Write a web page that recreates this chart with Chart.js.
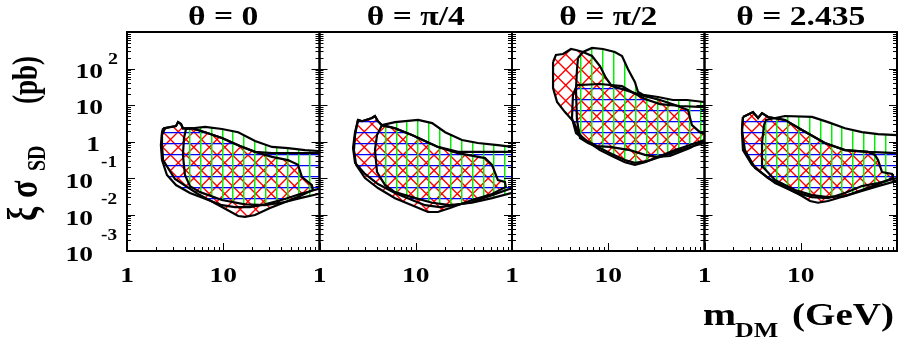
<!DOCTYPE html>
<html><head><meta charset="utf-8">
<script src="https://cdn.jsdelivr.net/npm/chart.js@4.4.1/dist/chart.umd.min.js"></script>
<style>
html,body{margin:0;padding:0;background:#fff;}
#wrap{position:relative;width:900px;height:344px;overflow:hidden;background:#fff;}
#wrap canvas{position:absolute;left:0;top:0;}
</style></head><body><div id="wrap"></div>
<script>
// ---------------- DATA (m_DM in GeV, xi*sigma_SD in pb) ----------------
const panelTitles = ["θ = 0", "θ = π/4", "θ = π/2", "θ = 2.435"];
const xMajorTicks = [1, 10, 100];
const xTickLabels = [[1, "1"], [10, "10"]];
const yMajorTicks = [0.001, 0.01, 0.1, 1, 10, 100, 1000];
const minorSteps = [2, 3, 4, 5, 6, 7, 8, 9];

// theta = 0
const t0Blue = [[2.37,2.3],[2.80,2.5],[3.23,2.66],[3.39,3.4],[3.64,3.0],[3.81,2.3],[4.73,2.3],[6.47,1.8],[9.70,1.25],[14.9,0.75],[21.4,0.52],[32.1,0.48],[97,0.48],[130,0.48],[130,0.05],[97,0.05],[62.7,0.0365],[43.8,0.0266],[27.2,0.019],[18.9,0.016],[13.2,0.016],[9.7,0.018],[6.47,0.027],[4.51,0.039],[3.23,0.064],[2.60,0.121],[2.31,0.31],[2.25,0.80],[2.31,1.8]];
const t0Red = [[2.31,1.5],[2.48,2.3],[3.23,2.66],[3.39,3.4],[3.64,3.0],[3.81,2.3],[4.73,2.3],[6.47,1.8],[9.70,1.25],[14.9,0.75],[21.4,0.52],[32.1,0.38],[47.0,0.31],[59.8,0.23],[65.8,0.106],[83.4,0.064],[85.4,0.047],[62.7,0.032],[47.0,0.0234],[30.6,0.015],[21.4,0.0097],[16.8,0.0086],[14.3,0.0091],[9.7,0.016],[5.47,0.0365],[3.15,0.094],[2.37,0.31],[2.31,0.80]];
const t0Green = [[4.10,2.2],[6.47,2.5],[9.7,2.2],[14.3,1.8],[21.4,1.03],[32.1,0.71],[47.0,0.66],[70.6,0.58],[97,0.55],[130,0.55],[130,0.0365],[97,0.0365],[62.7,0.028],[43.8,0.022],[27.2,0.018],[16.8,0.019],[9.7,0.025],[5.74,0.041],[4.51,0.060],[4.0,0.121],[3.81,0.43],[3.91,1.25]];

// theta = pi/4
const tq4Blue = [[2.51,3.9],[2.77,3.6],[3.51,4.4],[3.77,5.0],[4.05,3.6],[4.45,2.8],[6.09,2.3],[9.13,1.5],[17.0,0.71],[27.5,0.52],[46.5,0.52],[100,0.52],[130,0.52],[130,0.053],[100,0.053],[62,0.034],[38.4,0.022],[25.6,0.018],[17.8,0.016],[12.5,0.018],[9.13,0.025],[6.09,0.039],[4.05,0.0685],[2.97,0.129],[2.34,0.26],[2.23,0.66],[2.34,1.8]];
const tq4Red = [[2.34,1.5],[2.51,3.9],[2.77,3.6],[3.51,4.4],[3.77,5.0],[4.05,3.6],[4.45,2.8],[6.09,2.3],[9.13,1.5],[17.0,0.71],[27.5,0.48],[52.4,0.35],[62,0.23],[71.4,0.088],[84.3,0.078],[86.3,0.057],[62,0.0365],[38.4,0.025],[22.7,0.015],[17.0,0.0117],[13.4,0.0117],[9.13,0.018],[6.09,0.028],[4.05,0.053],[2.97,0.1],[2.40,0.23],[2.28,0.58]];
const tq4Green = [[4.45,2.8],[6.09,3.4],[10.6,3.9],[14.8,3.2],[20.2,1.8],[30.2,1.1],[44.2,0.91],[71.4,0.80],[100,0.71],[130,0.71],[130,0.039],[100,0.039],[62,0.028],[38.4,0.021],[22.7,0.018],[14.8,0.021],[9.13,0.030],[6.09,0.041],[4.79,0.064],[3.96,0.146],[3.77,0.58],[3.96,1.5]];

// theta = pi/2
const tq2Blue = [[4.73,35],[8.20,37.6],[13.9,33],[17.6,22.7],[24.1,14.6],[34.5,10.6],[55.7,9.4],[98.8,8.8],[130,8.8],[130,1.1],[100,1.1],[70.6,0.66],[43.8,0.40],[32.1,0.38],[24.1,0.43],[16.8,0.58],[10.4,0.71],[7.63,0.75],[5.74,1.1],[4.62,1.7],[4.20,4.4],[4.30,19]];
const tq2Red = [[2.67,151],[2.86,234],[3.39,250],[4.10,342],[4.62,321],[5.47,283],[6.78,220],[8.20,117],[9.47,55],[10.9,33],[14.9,26],[21.4,19],[34.5,13.7],[49.4,10],[67.4,7.3],[74.1,2.8],[89.6,1.8],[100,1.6],[130,1.6],[130,1.1],[100,1.1],[70.6,0.80],[49.4,0.58],[34.5,0.40],[24.1,0.27],[18.9,0.23],[14.9,0.27],[10.9,0.40],[8.20,0.58],[6.16,0.97],[4.85,1.7],[4.40,3.4],[3.55,6.4],[2.94,12.1],[2.67,29]];
const tq2Green = [[4.85,194],[5.47,283],[6.78,365],[8.81,342],[11.7,283],[13.9,220],[16.0,97],[18.9,43],[20.4,22.7],[23.0,19],[32.9,16.6],[47.0,13.7],[65.8,13.7],[98.8,12.1],[130,12.1],[130,0.91],[100,0.91],[70.6,0.71],[49.4,0.52],[34.5,0.38],[25.3,0.29],[18.9,0.26],[14.9,0.31],[10.9,0.455],[8.2,0.66],[6.16,0.91],[5.09,1.25],[4.73,3.9],[4.62,26],[4.73,91]];

// theta = 2.435
const t2435Blue = [[2.51,4.7],[3.19,6.4],[3.60,4.4],[3.96,6.0],[4.57,4.7],[6.86,3.9],[10.3,2.07],[17.8,0.91],[28.8,0.58],[49.9,0.52],[100,0.48],[130,0.48],[130,0.1],[100,0.1],[63.5,0.073],[43.2,0.060],[28.8,0.039],[19.2,0.028],[13.1,0.030],[8.72,0.041],[5.41,0.073],[3.35,0.188],[2.63,0.58],[2.45,2.07]];
const t2435Red = [[2.51,4.7],[3.19,6.4],[3.60,4.4],[3.96,6.0],[4.57,4.7],[6.86,3.9],[10.3,2.07],[17.8,0.91],[28.8,0.58],[49.9,0.52],[58.9,0.43],[63.5,0.31],[69.9,0.146],[88.9,0.129],[90.8,0.1],[63.5,0.068],[43.2,0.047],[28.8,0.032],[19.2,0.0234],[15.1,0.021],[12.5,0.0234],[10.3,0.032],[6.86,0.057],[4.57,0.1],[3.11,0.23],[2.51,0.58],[2.45,1.8]];
const t2435Green = [[4.15,2.8],[4.36,3.9],[6.86,5.0],[13.1,4.7],[19.2,3.4],[28.8,2.3],[43.2,1.8],[63.5,1.6],[100,1.5],[130,1.5],[130,0.083],[100,0.083],[63.5,0.06],[43.2,0.044],[28.8,0.032],[19.2,0.030],[13.1,0.034],[8.72,0.047],[5.41,0.088],[4.05,0.20],[3.96,0.91]];

// ---------------- LAYOUT ----------------
const W = 900, H = 344;
const panelEdges = [127, 319.5, 512, 704.5, 897];
const plotTop = 32, plotBottom = 251;
const SERIF = '"Liberation Serif","Times New Roman","DejaVu Serif",serif';

const panels = [
  {title: panelTitles[0], green: t0Green, blue: t0Blue, red: t0Red},
  {title: panelTitles[1], green: tq4Green, blue: tq4Blue, red: tq4Red},
  {title: panelTitles[2], green: tq2Green, blue: tq2Blue, red: tq2Red},
  {title: panelTitles[3], green: t2435Green, blue: t2435Blue, red: t2435Red}
];

// ---------------- PATTERNS ----------------
function patH() {
  const c = document.createElement('canvas'); c.width = 8; c.height = 11;
  const g = c.getContext('2d'); g.fillStyle = '#0000ff'; g.fillRect(0, 0, 8, 1);
  g.fillStyle = 'rgba(60,60,255,0.35)'; g.fillRect(0, 1, 8, 1);
  return g.createPattern(c, 'repeat');
}
function patV() {
  const c = document.createElement('canvas'); c.width = 87; c.height = 4;
  const g = c.getContext('2d');
  [15, 26, 37, 48, 58, 69, 80, 4].forEach(x => {
    g.fillStyle = '#00f000'; g.fillRect(x, 0, 1, 4);
    g.fillStyle = 'rgba(40,240,40,0.55)'; g.fillRect(x + 1, 0, 1, 4);
  });
  return g.createPattern(c, 'repeat');
}
function patX() {
  const T = 31;
  const c = document.createElement('canvas'); c.width = T; c.height = T;
  const g = c.getContext('2d'); g.strokeStyle = '#ff0000'; g.lineWidth = 1.4;
  g.beginPath();
  for (let o = -T; o <= T; o += T / 2) {
    g.moveTo(o, 0); g.lineTo(o + T, T);
    g.moveTo(o, T); g.lineTo(o + T, 0);
  }
  g.stroke();
  return g.createPattern(c, 'repeat');
}
const PG = patV(), PB = patH(), PR = patX();

function closed(arr) {
  const pts = arr.map(([x, y]) => ({x, y}));
  pts.push({x: arr[0][0], y: arr[0][1]});
  return pts;
}
function fillDs(arr, pat) {
  return {data: closed(arr), showLine: true, fill: 'shape', backgroundColor: pat,
    borderColor: 'rgba(0,0,0,0)', borderWidth: 0, pointRadius: 0, tension: 0};
}
function lineDs(arr) {
  return {data: closed(arr), showLine: true, fill: false, borderColor: '#000',
    borderWidth: 2.2, pointRadius: 0, tension: 0, backgroundColor: 'rgba(0,0,0,0)'};
}

function txt(ctx, s, x, y, size, align, sx) {
  ctx.save();
  ctx.font = 'bold ' + size + 'px ' + SERIF;
  ctx.textAlign = align; ctx.textBaseline = 'alphabetic';
  ctx.fillStyle = '#000';
  ctx.translate(x, y); ctx.scale(sx, 1);
  ctx.fillText(s, 0, 0);
  ctx.restore();
}

const deco = {
  id: 'deco',
  afterDraw(chart, args, opts) {
    const {ctx, chartArea: a} = chart;
    const xs = chart.scales.x, ys = chart.scales.y;
    const i = opts.index;
    ctx.save();
    ctx.strokeStyle = '#000'; ctx.lineWidth = 1;
    ctx.beginPath();
    xMajorTicks.forEach(v => {
      const px = Math.round(xs.getPixelForValue(v)) + 0.5;
      ctx.moveTo(px, a.bottom); ctx.lineTo(px, a.bottom - 8);
      if (v < 100) minorSteps.forEach(s => {
        const qx = Math.round(xs.getPixelForValue(v * s)) + 0.5;
        ctx.moveTo(qx, a.bottom); ctx.lineTo(qx, a.bottom - 4);
      });
    });
    yMajorTicks.forEach(v => {
      const py = Math.round(ys.getPixelForValue(v)) + 0.5;
      ctx.moveTo(a.left, py); ctx.lineTo(a.left + 8, py);
      ctx.moveTo(a.right, py); ctx.lineTo(a.right - 8, py);
      if (v < 1000) minorSteps.forEach(s => {
        const qy = Math.round(ys.getPixelForValue(v * s)) + 0.5;
        ctx.moveTo(a.left, qy); ctx.lineTo(a.left + 4, qy);
        ctx.moveTo(a.right, qy); ctx.lineTo(a.right - 4, qy);
      });
    });
    ctx.stroke();
    ctx.lineWidth = 2;
    ctx.strokeRect(a.left, a.top, a.right - a.left, a.bottom - a.top);
    ctx.restore();

    txt(ctx, panels[i].title, (a.left + a.right) / 2, 25, 28, 'center', 1.2);
    xTickLabels.forEach(([v, t]) => txt(ctx, t, xs.getPixelForValue(v), 282, 22, 'center', 1.25));

    if (i === 0) {
      yMajorTicks.forEach(v => {
        if (v >= 1000) return;
        const e = Math.round(Math.log10(v));
        const py = ys.getPixelForValue(v);
        if (e === 0) txt(ctx, '1', 100, py + 9, 22, 'right', 1.25);
        else if (e === 1) txt(ctx, '10', 103, py + 9, 22, 'right', 1.25);
        else if (e > 1) {
          txt(ctx, '10', 103, py + 9, 22, 'right', 1.25);
          txt(ctx, String(e), 108, py - 5, 16, 'left', 1.25);
        } else {
          txt(ctx, '10', 93, py + 10, 22, 'right', 1.25);
          txt(ctx, String(e), 117, py - 11, 16, 'right', 1.2);
        }
      });
      const rot = (s, x, y, size) => {
        ctx.save();
        ctx.font = 'bold ' + size + 'px ' + SERIF;
        ctx.fillStyle = '#000'; ctx.textAlign = 'left'; ctx.textBaseline = 'alphabetic';
        ctx.translate(x, y); ctx.scale(1.3, 1); ctx.rotate(-Math.PI / 2);
        ctx.fillText(s, 0, 0);
        ctx.restore();
      };
      rot('ξ', 37, 221, 32);
      rot('σ', 37, 198, 32);
      rot('SD', 45, 171, 20);
      rot('(pb)', 37, 104, 27);
    }
    if (i === 3) {
      txt(ctx, 'm', 703, 325, 31, 'left', 1.28);
      txt(ctx, 'DM', 735, 337, 20, 'left', 1.3);
      txt(ctx, '(GeV)', 792, 325, 31, 'left', 1.26);
    }
  }
};

const wrap = document.getElementById('wrap');
panels.forEach((p, i) => {
  const cv = document.createElement('canvas');
  cv.width = W; cv.height = H; cv.style.width = W + 'px'; cv.style.height = H + 'px';
  wrap.appendChild(cv);
  new Chart(cv, {
    type: 'scatter',
    data: {datasets: [
      lineDs(p.red), lineDs(p.blue), lineDs(p.green),
      fillDs(p.green, PG), fillDs(p.blue, PB), fillDs(p.red, PR)
    ]},
    options: {
      responsive: false, animation: false, devicePixelRatio: 1,
      layout: {padding: {left: panelEdges[i], right: W - panelEdges[i + 1], top: plotTop, bottom: H - plotBottom}},
      scales: {
        x: {type: 'logarithmic', min: 1, max: 100, display: false},
        y: {type: 'logarithmic', min: 0.001, max: 1000, display: false}
      },
      plugins: {legend: {display: false}, tooltip: {enabled: false}, deco: {index: i}},
      events: []
    },
    plugins: [deco]
  });
});
</script></body></html>
